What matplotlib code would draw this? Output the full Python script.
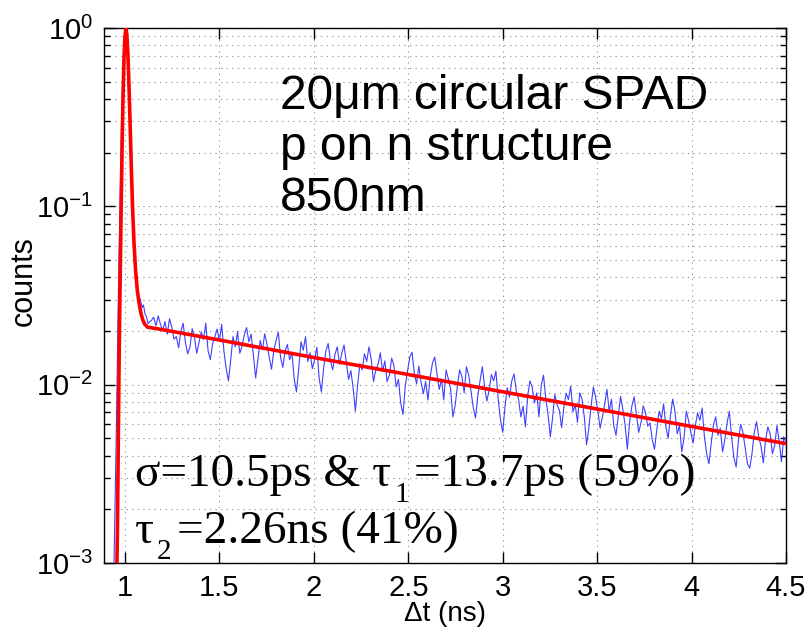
import numpy as np
import matplotlib
matplotlib.use("Agg")
import matplotlib.pyplot as plt
from matplotlib.ticker import FixedLocator, FixedFormatter, LogLocator, NullFormatter

# ---- data ----
# measured histogram: peak region (t in ns, normalised counts)
peak_t = [0.942, 0.950, 0.956, 0.962, 0.968, 0.975, 0.982, 0.990, 0.998, 1.004,
          1.010, 1.018, 1.026, 1.034, 1.042, 1.050, 1.058, 1.066, 1.074, 1.082,
          1.090, 1.098, 1.106, 1.114, 1.122, 1.130]
peak_counts = [0.001, 0.003, 0.007, 0.02, 0.05, 0.12, 0.30, 0.62, 0.92, 1.0,
               0.78, 0.50, 0.28, 0.14, 0.085, 0.058, 0.045, 0.036, 0.031, 0.030,
               0.027, 0.028, 0.025, 0.024, 0.022, 0.0225]
# measured histogram: tail, bins of 0.012 ns from 1.14 ns, counts in units of 1e-3
tail_start, tail_step = 1.14, 0.012
tail_counts_milli = [
    22.9, 23.9, 21.4, 24.3, 21.8, 20.1, 22.6, 19.2, 23.4, 21.0, 18.0, 18.6, 16.1, 19.9, 22.1, 17.3, 14.9, 16.2, 20.6, 18.4,
    15.0, 17.2, 19.8, 17.9, 22.1, 15.5, 13.8, 17.0, 18.6, 20.5, 17.5, 21.8, 15.4, 12.3, 10.5, 13.8, 18.6, 16.3, 19.8, 15.0,
    16.4, 19.0, 20.9, 17.4, 19.2, 14.6, 10.9, 13.9, 17.7, 15.7, 19.3, 16.8, 14.2, 12.2, 15.5, 17.7, 19.7, 14.2, 12.5, 15.5,
    16.8, 13.8, 15.1, 10.8, 9.1, 12.3, 17.4, 15.6, 18.6, 13.5, 15.1, 12.3, 13.8, 16.2, 10.9, 9.1, 12.4, 15.5, 17.0, 13.6,
    12.1, 14.8, 16.3, 13.0, 15.0, 16.7, 13.4, 10.7, 12.0, 9.6, 7.1, 10.0, 13.1, 12.1, 14.9, 13.5, 16.3, 13.8, 10.4, 12.1,
    13.0, 15.1, 11.9, 13.6, 10.4, 11.3, 14.1, 12.8, 9.7, 10.7, 7.9, 6.8, 9.8, 11.9, 14.3, 15.2, 11.6, 10.1, 12.7, 10.3,
    8.9, 10.4, 8.2, 11.1, 13.2, 14.3, 11.5, 9.4, 10.7, 8.2, 12.1, 10.8, 9.5, 6.6, 7.6, 9.8, 12.1, 11.1, 9.0, 12.6,
    11.3, 9.2, 7.5, 6.5, 8.6, 10.5, 12.6, 9.8, 8.1, 9.25, 11.4, 10.5, 11.9, 8.3, 6.4, 5.4, 7.5, 9.6, 8.5, 10.5,
    11.5, 9.2, 8.3, 6.6, 7.6, 5.8, 8.55, 10.5, 9.7, 7.9, 9.0, 6.6, 9.9, 11.3, 8.4, 6.8, 5.1, 6.5, 8.8, 7.7,
    7.2, 5.75, 7.5, 8.95, 8.25, 9.8, 7.05, 7.7, 6.15, 9.0, 8.3, 6.6, 4.6, 5.7, 7.6, 9.7, 8.5, 7.1, 5.7, 6.6,
    7.8, 9.4, 7.05, 8.3, 5.9, 5.2, 6.7, 8.6, 7.3, 5.95, 4.35, 6.2, 7.6, 8.55, 6.8, 5.4, 6.1, 7.6, 7.0, 5.85,
    6.1, 4.9, 4.35, 5.6, 7.1, 6.45, 7.8, 5.8, 5.0, 6.7, 8.3, 7.1, 5.3, 5.9, 4.2, 5.0, 7.1, 6.3, 5.4, 4.7,
    5.9, 6.95, 6.3, 7.4, 5.1, 4.1, 3.6, 4.7, 5.95, 6.6, 5.2, 5.7, 4.2, 4.9, 6.1, 7.1, 5.1, 3.9, 3.45, 4.85,
    6.0, 5.4, 4.4, 3.6, 3.4, 4.1, 5.4, 6.2, 5.1, 4.5, 3.65, 4.9, 5.8, 5.3, 4.1, 4.55, 5.9, 4.8, 3.7, 5.1,
    4.7,
]
# fitted curve
fit_t = [0.955, 0.960, 0.964, 0.968, 0.972, 0.976, 0.980, 0.985, 0.990, 0.995,
         1.000, 1.005, 1.010, 1.016, 1.022, 1.028, 1.034, 1.040, 1.048, 1.056,
         1.065, 1.075, 1.085, 1.095, 1.105, 1.12, 1.17, 1.5, 2.0, 2.5, 3.0, 3.5, 4.0, 4.5]
fit_counts = [0.0007, 0.0015, 0.004, 0.011, 0.025, 0.05, 0.10, 0.22, 0.42, 0.68,
              0.90, 1.0, 0.92, 0.70, 0.45, 0.27, 0.16, 0.10, 0.062, 0.044,
              0.034, 0.0285, 0.025, 0.023, 0.0218, 0.0210, 0.0206, 0.0178, 0.0142,
              0.0114, 0.00912, 0.0073, 0.00583, 0.00467]

x_ticks = [1, 1.5, 2, 2.5, 3, 3.5, 4, 4.5]
x_tick_labels = ["1", "1.5", "2", "2.5", "3", "3.5", "4", "4.5"]
y_ticks = [1e-3, 1e-2, 1e-1, 1e0]
y_tick_labels = [r"$\mathregular{10^{-3}}$", r"$\mathregular{10^{-2}}$",
                 r"$\mathregular{10^{-1}}$", r"$\mathregular{10^{0}}$"]

title_lines = ["20μm circular SPAD", "p on n structure", "850nm"]
fit_line1 = [("σ=10.5ps & τ", 0), ("1", 1), ("=13.7ps (59%)", 0)]
fit_line2 = [("τ", 0), ("2", 1), ("=2.26ns (41%)", 0)]

# ---- assemble ----
tail_t = tail_start + tail_step * np.arange(len(tail_counts_milli))
data_t = np.concatenate([peak_t, tail_t])
data_c = np.concatenate([peak_counts, np.array(tail_counts_milli) * 1e-3])

W, H = 808, 632
narrow = ['Liberation Sans Narrow', 'Liberation Sans', 'DejaVu Sans']
plt.rcParams['font.family'] = ['Liberation Sans', 'DejaVu Sans']

fig = plt.figure(figsize=(W / 100, H / 100), dpi=100)
ax = fig.add_axes([104 / W, 69 / H, 682 / W, 535 / H])

ax.plot(data_t, data_c, color='#2b2bff', lw=0.8, alpha=0.9, zorder=3)
ax.plot(fit_t, fit_counts, color='#ff0000', lw=2.6, zorder=4, solid_capstyle='butt')

ax.set_yscale('log')
ax.set_xlim(0.889, 4.5)
ax.set_ylim(1e-3, 1)

ax.xaxis.set_major_locator(FixedLocator(x_ticks))
ax.xaxis.set_major_formatter(FixedFormatter(x_tick_labels))
ax.yaxis.set_major_locator(FixedLocator(y_ticks))
ax.yaxis.set_major_formatter(FixedFormatter(y_tick_labels))
ax.yaxis.set_minor_locator(LogLocator(base=10, subs=np.arange(2, 10)))
ax.yaxis.set_minor_formatter(NullFormatter())

ax.tick_params(which='both', direction='in', top=True, right=True,
               width=1.0, color='black', labelsize=21, labelfontfamily=narrow)
ax.tick_params(which='major', length=8)
ax.tick_params(which='minor', length=4)
ax.tick_params(axis='x', pad=8)
ax.tick_params(axis='y', pad=8)

ax.grid(True, which='major', axis='x', linestyle=(0, (1, 4)), color='#888888', lw=0.8)
ax.grid(True, which='both', axis='y', linestyle=(0, (1, 4)), color='#888888', lw=0.8)
for s in ax.spines.values():
    s.set_linewidth(1.0)
    s.set_color('black')

ax.set_xlabel("Δt (ns)", fontsize=20, family=narrow, labelpad=-1)
ax.set_ylabel("counts", fontsize=22, family=narrow, labelpad=-2)
ax.yaxis.label.set_y(0.527)

for i, line in enumerate(title_lines):
    fig.text(280 / W, (H - 109 - 51 * i) / H, line, fontsize=34.5,
             ha='left', va='baseline', color='black')

serif = ['Liberation Serif', 'DejaVu Serif']
renderer = fig.canvas.get_renderer()


def draw_runs(x_px, base_px, runs, size):
    x = x_px
    for txt, is_sub in runs:
        if is_sub:
            x += 3
        fs = size * 0.62 if is_sub else size
        y = base_px + (16 if is_sub else 0)
        t = fig.text(x / W, (H - y) / H, txt, fontsize=fs, family=serif,
                     ha='left', va='baseline', color='black')
        x += t.get_window_extent(renderer).width
        if is_sub:
            x += 5


draw_runs(135, 486, fit_line1, 34)
draw_runs(135, 543, fit_line2, 34)

fig.savefig("out.png", dpi=100, facecolor='white')
